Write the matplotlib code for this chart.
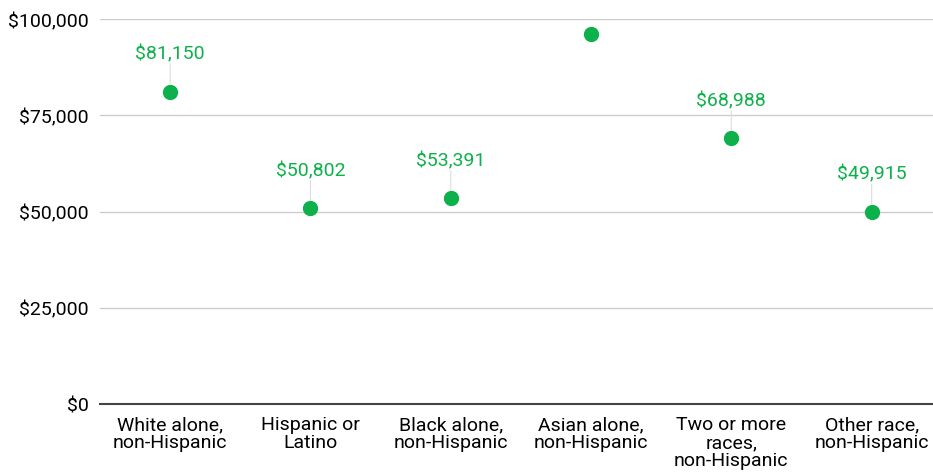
## Imports required libraries.
import numpy as np
import matplotlib.pyplot as plt

plt.rcParams['font.family'] = ['Roboto', 'DejaVu Sans']

## Chart data.
groups  = ['White alone,\nnon-Hispanic', 'Hispanic or\nLatino', 'Black alone,\nnon-Hispanic',
           'Asian alone,\nnon-Hispanic', 'Two or more\nraces,\nnon-Hispanic', 'Other race,\nnon-Hispanic']
income  = [81150, 50802, 53391, 96100, 68988, 49915]
labels  = ['$81,150', '$50,802', '$53,391', '', '$68,988', '$49,915']
yticks  = [0, 25000, 50000, 75000, 100000]
ytlabel = ['$0', '$25,000', '$50,000', '$75,000', '$100,000']

green = '#0db14b'

fig = plt.figure(figsize=(9.33, 4.77), dpi=100)
ax = fig.add_axes([100/933, 72/477, 833/933, 385/477])

x = np.arange(len(groups))
ax.plot(x, income, 'o', color=green, markersize=10, zorder=3, clip_on=False)

## Value labels with small leader lines.
for xi, val, lab in zip(x, income, labels):
    if not lab:
        continue
    ax.annotate('', xy=(xi, val), xytext=(0, 20), textcoords='offset points',
                xycoords='data',
                arrowprops=dict(arrowstyle='-', color='#dddddd', lw=0.8, shrinkA=0, shrinkB=6))
    ax.annotate(lab, xy=(xi, val), xytext=(0, 21), textcoords='offset points',
                ha='center', va='bottom', color=green, fontsize=14)

ax.set_xlim(-0.5, -0.5 + 833/140.3)
ax.set_ylim(0, 100000)
ax.set_yticks(yticks)
ax.set_yticklabels(ytlabel, fontsize=14)
ax.set_xticks(x)
ax.set_xticklabels(groups, fontsize=14, linespacing=1.0)
ax.tick_params(length=0, pad=8)
ax.tick_params(axis='x', pad=8)
ax.yaxis.grid(True, color='#cccccc', lw=1)
ax.set_axisbelow(True)
for s in ['top', 'right', 'left']:
    ax.spines[s].set_visible(False)
ax.spines['bottom'].set_color('#444444')
ax.spines['bottom'].set_linewidth(1.5)

plt.savefig('out.png', dpi=100)
